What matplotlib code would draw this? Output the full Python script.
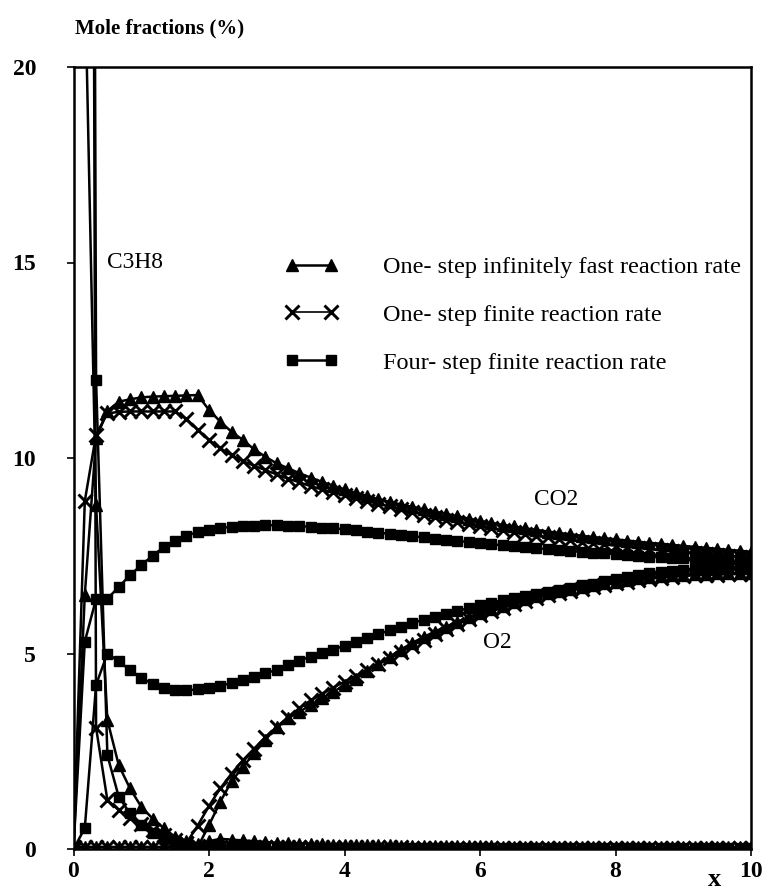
import numpy as np
import matplotlib
matplotlib.use("Agg")
import matplotlib.pyplot as plt
from matplotlib.lines import Line2D

# ---- data (mole fractions in %) ----
x_grid = np.linspace(0, 10, 61)

co2_fast = [0, 6.5, 10.5, 11.2, 11.44, 11.5, 11.55, 11.57, 11.58, 11.59,
            11.6, 11.61, 11.23, 10.93, 10.67, 10.46, 10.22, 10.03, 9.86, 9.74,
            9.61, 9.5, 9.39, 9.29, 9.2, 9.11, 9.03, 8.95, 8.88, 8.81,
            8.75, 8.69, 8.63, 8.57, 8.51, 8.45, 8.39, 8.34, 8.29, 8.25,
            8.2, 8.16, 8.12, 8.08, 8.05, 8.01, 7.98, 7.95, 7.92, 7.89,
            7.86, 7.83, 7.81, 7.78, 7.75, 7.73, 7.7, 7.68, 7.65, 7.63, 7.6]
co2_finite = [0, 8.9, 10.6, 11.14, 11.18, 11.19, 11.19, 11.19, 11.19, 11.19,
              11.0, 10.72, 10.46, 10.25, 10.07, 9.92, 9.8, 9.69, 9.58, 9.47,
              9.38, 9.28, 9.2, 9.12, 9.05, 8.97, 8.9, 8.83, 8.76, 8.69,
              8.62, 8.55, 8.48, 8.42, 8.36, 8.3, 8.25, 8.2, 8.15, 8.1,
              8.06, 8.01, 7.97, 7.93, 7.9, 7.86, 7.83, 7.79, 7.76, 7.73,
              7.7, 7.67, 7.64, 7.61, 7.58, 7.56, 7.54, 7.52, 7.5, 7.47, 7.45]
co2_four = [0, 5.3, 6.4, 6.4, 6.7, 7.0, 7.26, 7.5, 7.72, 7.88,
            8.01, 8.11, 8.17, 8.21, 8.24, 8.26, 8.27, 8.28, 8.28, 8.27,
            8.26, 8.24, 8.22, 8.2, 8.18, 8.15, 8.12, 8.09, 8.06, 8.03,
            8.0, 7.97, 7.94, 7.91, 7.88, 7.85, 7.82, 7.79, 7.77, 7.74,
            7.72, 7.69, 7.67, 7.64, 7.62, 7.6, 7.58, 7.56, 7.54, 7.52,
            7.5, 7.48, 7.47, 7.45, 7.44, 7.42, 7.41, 7.39, 7.38, 7.37, 7.35]

o2_fast = [0.05, 0.05, 0.05, 0.05, 0.05, 0.05, 0.05, 0.05, 0.05, 0.05,
           0.05, 0.05, 0.61, 1.21, 1.73, 2.1, 2.45, 2.79, 3.13, 3.34,
           3.51, 3.68, 3.85, 4.02, 4.19, 4.36, 4.55, 4.74, 4.92, 5.1,
           5.27, 5.42, 5.56, 5.69, 5.81, 5.93, 6.03, 6.13, 6.22, 6.31,
           6.39, 6.47, 6.54, 6.6, 6.65, 6.7, 6.75, 6.8, 6.84, 6.88,
           6.92, 6.95, 6.98, 7.0, 7.02, 7.03, 7.04, 7.05, 7.06, 7.06, 7.07]
o2_finite = [0.05, 0.05, 0.05, 0.05, 0.05, 0.05, 0.05, 0.05, 0.05, 0.05,
             0.15, 0.6, 1.1, 1.55, 1.93, 2.27, 2.57, 2.86, 3.12, 3.37,
             3.6, 3.8, 3.97, 4.13, 4.28, 4.42, 4.57, 4.72, 4.88, 5.04,
             5.2, 5.35, 5.49, 5.62, 5.75, 5.87, 5.98, 6.08, 6.17, 6.26,
             6.34, 6.42, 6.49, 6.55, 6.61, 6.66, 6.71, 6.76, 6.8, 6.84,
             6.88, 6.91, 6.94, 6.96, 6.98, 7.0, 7.01, 7.02, 7.03, 7.03, 7.04]
o2_four = [0, 0.53, 4.2, 5.0, 4.8, 4.58, 4.38, 4.22, 4.12, 4.07,
           4.06, 4.08, 4.13, 4.18, 4.24, 4.32, 4.41, 4.5, 4.58, 4.7,
           4.82, 4.92, 5.01, 5.1, 5.2, 5.3, 5.4, 5.5, 5.59, 5.69,
           5.78, 5.86, 5.94, 6.02, 6.09, 6.16, 6.23, 6.3, 6.36, 6.42,
           6.47, 6.52, 6.57, 6.63, 6.68, 6.74, 6.79, 6.85, 6.9, 6.96,
           7.01, 7.07, 7.09, 7.12, 7.14, 7.16, 7.18, 7.19, 7.2, 7.21, 7.22]

# fuel enters very rich (off the top of the chart) and is consumed quickly
c3h8_fast = [100.0, 22.5, 8.8, 3.3, 2.15, 1.55, 1.08, 0.78, 0.53, 0.31,
             0.2, 0.12, 0.2, 0.26, 0.24, 0.22, 0.2, 0.18, 0.16, 0.15,
             0.14, 0.13, 0.12, 0.11, 0.1, 0.1, 0.09, 0.09, 0.09, 0.08,
             0.08, 0.08, 0.08, 0.07, 0.07, 0.07, 0.07, 0.07, 0.06, 0.06,
             0.06, 0.06, 0.06, 0.06, 0.06, 0.06, 0.06, 0.06, 0.05, 0.05,
             0.05, 0.05, 0.05, 0.05, 0.05, 0.05, 0.05, 0.05, 0.05, 0.05, 0.05]
c3h8_finite = [100.0, 100.0, 3.1, 1.25, 1.0, 0.8, 0.65, 0.48, 0.36, 0.24,
               0.15, 0.08, 0.06, 0.05, 0.05, 0.05, 0.05, 0.04, 0.04, 0.04,
               0.04, 0.04, 0.04, 0.04, 0.04, 0.04, 0.04, 0.04, 0.04, 0.04,
               0.03, 0.03, 0.03, 0.03, 0.03, 0.03, 0.03, 0.03, 0.03, 0.03,
               0.03, 0.03, 0.03, 0.03, 0.03, 0.03, 0.03, 0.03, 0.03, 0.03,
               0.03, 0.03, 0.03, 0.03, 0.03, 0.03, 0.03, 0.03, 0.03, 0.03, 0.03]
c3h8_four = [100.0, 100.0, 12.0, 2.4, 1.34, 0.91, 0.61, 0.42, 0.28, 0.15,
             0.07, 0.04, 0.03, 0.03, 0.03, 0.03, 0.02, 0.02, 0.02, 0.02,
             0.02, 0.02, 0.02, 0.02, 0.02, 0.02, 0.02, 0.02, 0.02, 0.02,
             0.02, 0.02, 0.02, 0.02, 0.02, 0.02, 0.02, 0.02, 0.02, 0.02,
             0.02, 0.02, 0.02, 0.02, 0.02, 0.02, 0.02, 0.02, 0.02, 0.02,
             0.02, 0.02, 0.02, 0.02, 0.02, 0.02, 0.02, 0.02, 0.02, 0.02, 0.02]

legend_labels = ["One- step infinitely fast reaction rate",
                 "One- step finite reaction rate",
                 "Four- step finite reaction rate"]
x_ticks = [0, 2, 4, 6, 8, 10]
y_ticks = [0, 5, 10, 15, 20]

# ---- styling ----
plt.rcParams["font.family"] = ["Liberation Serif", "DejaVu Serif"]

fig = plt.figure(figsize=(7.64, 8.91), dpi=100)
ax = fig.add_axes([73.5 / 764, 1 - 849 / 891, (751 - 73.5) / 764, (849 - 67) / 891])

styles = {
    "fast": dict(marker="^", markersize=8.5, color="black", lw=1.8),
    "finite": dict(marker="x", markersize=9.5, markeredgewidth=2.1, color="black", lw=1.8),
    "four": dict(marker="s", markersize=7.2, color="black", lw=1.8),
}

series = [
    (co2_fast, "fast"), (o2_fast, "fast"), (c3h8_fast, "fast"),
    (co2_finite, "finite"), (o2_finite, "finite"), (c3h8_finite, "finite"),
    (co2_four, "four"), (o2_four, "four"), (c3h8_four, "four"),
]
for vals, key in series:
    ax.plot(x_grid, vals, **styles[key])

ax.set_xlim(0, 10)
ax.set_ylim(0, 20)
ax.set_xticks(x_ticks)
ax.set_yticks(y_ticks)
ax.tick_params(axis="both", direction="out", length=5, width=1.2, labelsize=17)
ax.tick_params(axis="y", pad=22)
for lab in ax.get_xticklabels() + ax.get_yticklabels():
    lab.set_fontweight("bold")
for sp in ax.spines.values():
    sp.set_linewidth(1.8)

# annotations
ax.text(0.5, 15.0, "C3H8", fontsize=16.8, va="center", ha="left")
ax.text(6.79, 8.93, "CO2", fontsize=16.8, va="center", ha="left")
ax.text(6.05, 5.27, "O2", fontsize=16.8, va="center", ha="left")

fig.text(75 / 764, 1 - 28 / 891, "Mole fractions (%)", fontsize=15,
         fontweight="bold", va="center", ha="left")
fig.text(715 / 764, 1 - 880 / 891, "x", fontsize=19, fontweight="bold",
         va="center", ha="center")

# legend
handles = [Line2D([], [], **styles["fast"]),
           Line2D([], [], **{**styles["finite"], "lw": 1.2}),
           Line2D([], [], **styles["four"])]
ax.legend(handles, legend_labels, loc="upper left",
          bbox_to_anchor=(285 / 764, 1 - 256 / 891),
          bbox_transform=fig.transFigure, frameon=False,
          fontsize=17.5, numpoints=2, handlelength=2.2,
          handletextpad=1.85, labelspacing=1.06, borderpad=0,
          borderaxespad=0)

fig.savefig("out.png", dpi=100)
